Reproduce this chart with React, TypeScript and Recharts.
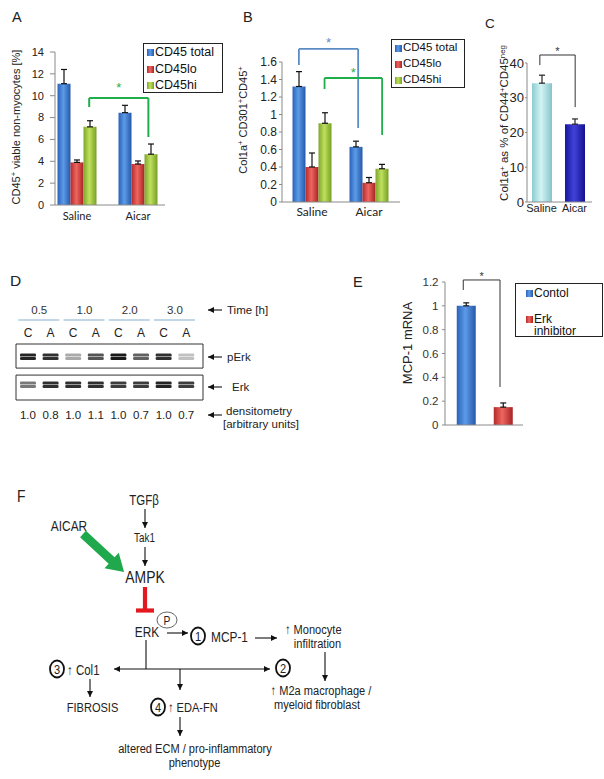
import React from 'react';
import {
  ComposedChart, Bar, Line, XAxis, YAxis, ErrorBar, ReferenceLine, ReferenceArea,
  Legend, Cell, ScatterChart, Scatter,
} from 'recharts';

const SANS = '"Liberation Sans", Arial, sans-serif';
const CALIBRI = 'Lato, "Open Sans", sans-serif';

// ---- A / B : CD45 populations, saline vs aicar
const groups = ['Saline', 'Aicar'];
const cd45Series = ['CD45 total', 'CD45lo', 'CD45hi'];

const aTotal = [11.1, 8.45];
const aTotalErr = [1.3, 0.67];
const aLo = [3.9, 3.75];
const aLoErr = [0.22, 0.28];
const aHi = [7.15, 4.65];
const aHiErr = [0.56, 0.93];
const aTicks = [0, 2, 4, 6, 8, 10, 12, 14];

const bTotal = [1.32, 0.63];
const bTotalErr = [0.17, 0.065];
const bLo = [0.4, 0.22];
const bLoErr = [0.16, 0.06];
const bHi = [0.9, 0.38];
const bHiErr = [0.12, 0.05];
const bTicks = [0, 0.2, 0.4, 0.6, 0.8, 1, 1.2, 1.4, 1.6];

// ---- C : Col1a+ fraction
const cGroups = ['Saline', 'Aicar'];
const cValues = [34.2, 22.4];
const cErr = [2.3, 1.5];
const cTicks = [0, 10, 20, 30, 40];

// ---- D : western blot
const lanes = ['C', 'A', 'C', 'A', 'C', 'A', 'C', 'A'];
const timePoints = ['0.5', '1.0', '2.0', '3.0'];
const timeTicks = [0.5, 2.5, 4.5, 6.5];
const densitometry = ['1.0', '0.8', '1.0', '1.1', '1.0', '0.7', '1.0', '0.7'];
const pErkDarkness = [0.9, 0.85, 0.35, 0.7, 0.95, 0.65, 0.85, 0.25];
const erkDarkness = [0.55, 0.85, 0.85, 0.85, 0.8, 0.8, 0.9, 0.8];

// ---- E : MCP-1 mRNA
const eSeries = ['Contol', 'Erk inhibitor'];
const eValues = [1.0, 0.15];
const eErr = [0.025, 0.035];
const eTicks = [0, 0.2, 0.4, 0.6, 0.8, 1, 1.2];

// significance brackets: x in group units, y in value units
const aBrackets = [{ xl: 0.7, xr: 1.67, yl: 8.97, top: 9.79, yr: 6.22, color: '#1fae4b' }];
const bBrackets = [
  { xl: 0.27, xr: 1.31, yl: 1.566, top: 1.749, yr: 0.846, color: '#5a8cc6' },
  { xl: 0.72, xr: 1.73, yl: 1.291, top: 1.417, yr: 0.766, color: '#1fae4b' },
];
const cBrackets = [{ xl: 0.45, xr: 1.52, yl: 39.4, top: 42.3, yr: 27.3, color: '#333' }];
const eBrackets = [{ xl: 0.22, xr: 0.71, yl: 1.133, top: 1.217, yr: 0.319, color: '#333' }];

const cdFills = ['url(#gBlue)', 'url(#gRed)', 'url(#gGreen)'];
const axisGrey = '#8a8a8a';

function bracketPoints(list: any[]) {
  return list.flatMap((b) => [{ x: b.xl, y: b.yl }, { x: b.xr, y: b.yr }]);
}

function bracketLines(list: any[], width: number, starSize: number, starOffsets: number[]) {
  return list.flatMap((b, i) => [
    <ReferenceLine key={`l${i}`} xAxisId="n" ifOverflow="visible" stroke={b.color} strokeWidth={width}
      segment={[{ x: b.xl, y: b.yl }, { x: b.xl, y: b.top }]} />,
    <ReferenceLine key={`t${i}`} xAxisId="n" ifOverflow="visible" stroke={b.color} strokeWidth={width}
      segment={[{ x: b.xl, y: b.top }, { x: b.xr, y: b.top }]}
      label={{ value: '*', position: 'top', offset: starOffsets[i], fill: b.color, fontSize: starSize, fontFamily: SANS }} />,
    <ReferenceLine key={`r${i}`} xAxisId="n" ifOverflow="visible" stroke={b.color} strokeWidth={width}
      segment={[{ x: b.xr, y: b.top }, { x: b.xr, y: b.yr }]} />,
  ]);
}

// invisible carrier so the bracket axis gets a proper numeric domain
function bracketCarrier(list: any[]) {
  return (
    <Line xAxisId="n" data={bracketPoints(list)} dataKey="y" stroke="none" dot={false} activeDot={false}
      legendType="none" isAnimationActive={false} />
  );
}

function BoxLegend({ payload, order, fills, fontSize, rowHeight, pad, textWidth }: any) {
  const items = order.map((name: string, i: number) => {
    const p = (payload ?? []).find((q: any) => q.value === name);
    return { name, color: p?.color ?? fills[i] };
  });
  return (
    <div style={{
      boxSizing: 'border-box', width: '100%', height: '100%', border: '1px solid #222',
      background: '#fff', padding: pad, fontFamily: SANS, fontSize, color: '#111', lineHeight: 1.0,
    }}>
      {items.map((p: any, i: number) => (
        <div key={i} style={{ display: 'flex', alignItems: 'flex-start', height: rowHeight }}>
          <svg width={7} height={7} style={{ marginTop: 3, marginRight: 1, flex: 'none' }}>
            <rect width={7} height={7} fill={p.color} />
          </svg>
          <span style={{ maxWidth: textWidth }}>{p.name}</span>
        </div>
      ))}
    </div>
  );
}

function RotLabel({ cx, cy, size, children }: any) {
  return (
    <div style={{
      position: 'absolute', left: cx, top: cy, transform: 'translate(-50%,-50%) rotate(-90deg)',
      whiteSpace: 'nowrap', fontSize: size, color: '#222', lineHeight: 1, fontFamily: SANS,
    }}>{children}</div>
  );
}

const Sup = ({ children }: any) => <sup style={{ fontSize: '0.68em', verticalAlign: '0.45em', lineHeight: 0 }}>{children}</sup>;

function cdRows(t: number[], te: number[], lo: number[], le: number[], hi: number[], he: number[]) {
  return groups.map((g, i) => ({
    name: g, total: t[i], totalErr: [0, te[i]], lo: lo[i], loErr: [0, le[i]], hi: hi[i], hiErr: [0, he[i]],
  }));
}

function CD45Chart({ rows, ticks, max, width, height, margin, yWidth, xHeight, pad, tickFont, xFont, xMargin,
  tickSize, tickMargin, brackets, bracketWidth, starOffsets, legendBox, legendFont, legendRow }: any) {
  const keys = ['total', 'lo', 'hi'];
  return (
    <ComposedChart width={width} height={height} data={rows} margin={margin} barGap={0}>
      <XAxis dataKey="name" padding={pad} tickLine={false} axisLine={{ stroke: axisGrey }} interval={0}
        height={xHeight} tickSize={0} tickMargin={xMargin}
        tick={{ fontSize: xFont, fill: '#222', fontFamily: CALIBRI }} />
      <XAxis xAxisId="n" dataKey="x" type="number" domain={[0, 2]} allowDataOverflow padding={pad} hide />
      <YAxis domain={[0, max]} ticks={ticks} interval={0} allowDataOverflow width={yWidth}
        axisLine={{ stroke: axisGrey }} tickLine={{ stroke: axisGrey }} tickSize={tickSize} tickMargin={tickMargin}
        tick={{ fontSize: tickFont, fill: '#222', fontFamily: SANS }} />
      {keys.map((k, i) => (
        <Bar key={k} dataKey={k} name={cd45Series[i]} fill={cdFills[i]} barSize={13} isAnimationActive={false}>
          <ErrorBar dataKey={`${k}Err`} width={3} stroke="#111" strokeWidth={1.2} direction="y" />
        </Bar>
      ))}
      {bracketCarrier(brackets)}
      {bracketLines(brackets, bracketWidth, 13, starOffsets)}
      <Legend layout="vertical" align="center" verticalAlign="middle"
        wrapperStyle={legendBox}
        content={<BoxLegend order={cd45Series} fills={cdFills} fontSize={legendFont} rowHeight={legendRow} pad="2px 3px" />} />
    </ComposedChart>
  );
}

function bandShape(props: any) {
  const { cx, cy, payload } = props;
  if (payload.v == null) return <g />;
  return (
    <g opacity={payload.v} filter="url(#soft)">
      <rect x={cx - 8} y={cy - 3.3} width={16} height={3} rx={1.2} fill="#111" />
      <rect x={cx - 8} y={cy + 0.1} width={16} height={3} rx={1.2} fill="#111" />
    </g>
  );
}

const noShape = () => <g />;

function TimeTick(props: any) {
  const { x, y, index } = props;
  return (
    <g>
      <text x={x} y={y - 8} textAnchor="middle" fontSize={11.5} fill="#333" fontFamily={SANS}>{timePoints[index]}</text>
      <line x1={x - 21} x2={x + 20} y1={y - 2} y2={y - 2} stroke="#86aecb" strokeWidth={1.2} />
    </g>
  );
}

function Arrow({ x1, y1, x2, y2, both }: any) {
  return (
    <line x1={x1} y1={y1} x2={x2} y2={y2} stroke="#111" strokeWidth={1.1}
      markerEnd="url(#ah)" markerStart={both ? 'url(#ah)' : undefined} />
  );
}

// condensed text (Arial Narrow look) made by squeezing Liberation Sans
function T({ x, y, size = 13.5, anchor = 'start', narrow = true, children }: any) {
  return (
    <text transform={`translate(${x},${y}) scale(${narrow ? 0.82 : 1},1)`} x={0} y={0}
      fontSize={size} textAnchor={anchor} fontFamily={SANS} fill="#222">{children}</text>
  );
}

function Num({ cx, cy, n }: any) {
  return (
    <g>
      <ellipse cx={cx} cy={cy} rx={7} ry={8.5} fill="none" stroke="#111" strokeWidth={1.8} />
      <T x={cx} y={cy + 4.8} size={13.5} anchor="middle">{n}</T>
    </g>
  );
}

export default function App() {
  const aRows = cdRows(aTotal, aTotalErr, aLo, aLoErr, aHi, aHiErr);
  const bRows = cdRows(bTotal, bTotalErr, bLo, bLoErr, bHi, bHiErr);
  const cRows = cGroups.map((g, i) => ({ name: g, v: cValues[i], err: [0, cErr[i]] }));
  const eRows = [{ name: '', ctl: eValues[0], ctlErr: [0, eErr[0]], inh: eValues[1], inhErr: [0, eErr[1]] }];
  const pErkRows = lanes.map((_, i) => ({ lane: i, row: 1.54, v: pErkDarkness[i] }));
  const erkRows = lanes.map((_, i) => ({ lane: i, row: 0.54, v: erkDarkness[i] }));
  const densRows = lanes.map((_, i) => ({ lane: i, row: 0.54 }));
  const timeRows = timeTicks.map((t) => ({ t, row: 1.54 }));
  const laneTicks = lanes.map((_, i) => i);
  const laneDomain = [-0.53, 7.74];

  return (
    <div style={{ position: 'absolute', left: 0, top: 0, width: 604, height: 779, background: '#fff', overflow: 'hidden', fontFamily: SANS }}>
      <svg width={0} height={0} style={{ position: 'absolute' }}>
        <defs>
          <linearGradient id="gBlue" x1="0" x2="1" y1="0" y2="0">
            <stop offset="0" stopColor="#2a62b8" /><stop offset="0.45" stopColor="#5c9be8" /><stop offset="1" stopColor="#2458a8" />
          </linearGradient>
          <linearGradient id="gRed" x1="0" x2="1" y1="0" y2="0">
            <stop offset="0" stopColor="#b52a2a" /><stop offset="0.45" stopColor="#ee6660" /><stop offset="1" stopColor="#a82222" />
          </linearGradient>
          <linearGradient id="gGreen" x1="0" x2="1" y1="0" y2="0">
            <stop offset="0" stopColor="#7ea62c" /><stop offset="0.45" stopColor="#bfe05e" /><stop offset="1" stopColor="#76a024" />
          </linearGradient>
          <linearGradient id="gCyan" x1="0" x2="1" y1="0" y2="0">
            <stop offset="0" stopColor="#8ccbd0" /><stop offset="0.45" stopColor="#d2f4f5" /><stop offset="1" stopColor="#86c4ca" />
          </linearGradient>
          <linearGradient id="gNavy" x1="0" x2="1" y1="0" y2="0">
            <stop offset="0" stopColor="#1616a0" /><stop offset="0.45" stopColor="#4242d8" /><stop offset="1" stopColor="#121290" />
          </linearGradient>
          <filter id="soft" x="-20%" y="-50%" width="140%" height="200%">
            <feGaussianBlur stdDeviation="0.6" />
          </filter>
          <marker id="ah" viewBox="0 0 10 10" refX="10" refY="5" markerWidth="6" markerHeight="6"
            markerUnits="userSpaceOnUse" orient="auto-start-reverse">
            <path d="M0,0 L10,5 L0,10 z" fill="#111" />
          </marker>
        </defs>
      </svg>

      {/* A */}
      <div style={{ position: 'absolute', left: 0, top: 0 }}>
        <CD45Chart rows={aRows} ticks={aTicks} max={14} width={230} height={230}
          margin={{ top: 52, right: 65, bottom: 5, left: 15 }} yWidth={40} xHeight={20}
          pad={{ left: -8.5, right: -3.5 }} tickFont={11} xFont={11} xMargin={7} tickSize={5} tickMargin={6}
          brackets={aBrackets} bracketWidth={2} starOffsets={[6]}
          legendBox={{ left: 143, top: 43, width: 80, height: 50 }} legendFont={12.5} legendRow={16.5} />
      </div>
      <RotLabel cx={16} cy={127} size={11}>CD45<Sup>+</Sup> viable non-myocytes [%]</RotLabel>

      {/* B */}
      <div style={{ position: 'absolute', left: 230, top: 0 }}>
        <CD45Chart rows={bRows} ticks={bTicks} max={1.6} width={240} height={230}
          margin={{ top: 62, right: 70, bottom: 6, left: 12 }} yWidth={40} xHeight={22}
          pad={{ left: 1.5, right: 2.5 }} tickFont={12} xFont={12} xMargin={5} tickSize={3} tickMargin={2}
          brackets={bBrackets} bracketWidth={1.8} starOffsets={[2, 1]}
          legendBox={{ left: 161, top: 39, width: 74, height: 49 }} legendFont={11.5} legendRow={16} />
      </div>
      <RotLabel cx={243} cy={120} size={11}>Col1a<Sup>+</Sup> CD301<Sup>+</Sup>CD45<Sup>+</Sup></RotLabel>

      {/* C */}
      <div style={{ position: 'absolute', left: 470, top: 0 }}>
        <ComposedChart width={134} height={230} data={cRows} margin={{ top: 63, right: 12, bottom: 6, left: 32 }}>
          <XAxis dataKey="name" padding={{ left: -2, right: 1 }} tickLine={false} axisLine={{ stroke: axisGrey }}
            interval={0} height={22} tickSize={0} tickMargin={2} tick={{ fontSize: 11, fill: '#222', fontFamily: SANS }} />
          <XAxis xAxisId="n" dataKey="x" type="number" domain={[0, 2]} allowDataOverflow padding={{ left: -2, right: 1 }} hide />
          <YAxis domain={[0, 40]} ticks={cTicks} interval={0} allowDataOverflow width={25}
            axisLine={{ stroke: axisGrey }} tickLine={{ stroke: axisGrey }} tickSize={2} tickMargin={1}
            tick={{ fontSize: 13, fill: '#222', fontFamily: SANS }} />
          <Bar dataKey="v" barSize={20} isAnimationActive={false}>
            {cRows.map((r, i) => <Cell key={r.name} fill={i === 0 ? 'url(#gCyan)' : 'url(#gNavy)'} />)}
            <ErrorBar dataKey="err" width={3} stroke="#222" strokeWidth={1.2} direction="y" />
          </Bar>
          {bracketCarrier(cBrackets)}
          {bracketLines(cBrackets, 1, 11, [0])}
        </ComposedChart>
      </div>
      <RotLabel cx={505} cy={123} size={11.5}>Col1a<Sup>+</Sup> as % of CD44<Sup>+</Sup>CD45<Sup>neg</Sup></RotLabel>

      {/* D */}
      <div style={{ position: 'absolute', left: 0, top: 290 }}>
        <ScatterChart width={210} height={140} margin={{ top: 20, right: 7, bottom: 10, left: 16 }}>
          <XAxis xAxisId="lane" dataKey="lane" type="number" orientation="top" domain={laneDomain} allowDataOverflow
            ticks={laneTicks} interval={0} tickFormatter={(v: number) => lanes[v]} height={22} axisLine={false} tickLine={false}
            tickSize={0} tickMargin={7} tick={{ fontSize: 12, fill: '#222', fontFamily: SANS }} />
          <XAxis xAxisId="time" dataKey="t" type="number" orientation="top" domain={laneDomain} allowDataOverflow
            ticks={timeTicks} interval={0} height={12} axisLine={false} tickLine={false} tickSize={0} tickMargin={0}
            tick={<TimeTick />} />
          <XAxis xAxisId="dens" dataKey="lane" type="number" orientation="bottom" domain={laneDomain} allowDataOverflow
            ticks={laneTicks} interval={0} tickFormatter={(v: number) => densitometry[v]} height={20} axisLine={false}
            tickLine={false} tickSize={0} tickMargin={11} tick={{ fontSize: 11.5, fill: '#222', fontFamily: SANS }} />
          <YAxis dataKey="row" type="number" domain={[0, 2]} allowDataOverflow hide />
          <ReferenceArea xAxisId="lane" x1={laneDomain[0]} x2={laneDomain[1]} y1={1.14} y2={2}
            fill="none" stroke="#333" strokeWidth={1} ifOverflow="visible" />
          <ReferenceArea xAxisId="lane" x1={laneDomain[0]} x2={laneDomain[1]} y1={0} y2={0.89}
            fill="none" stroke="#333" strokeWidth={1} ifOverflow="visible" />
          <Scatter xAxisId="lane" name="pErk" data={pErkRows} shape={bandShape} isAnimationActive={false} />
          <Scatter xAxisId="lane" name="Erk" data={erkRows} shape={bandShape} isAnimationActive={false} />
          <Scatter xAxisId="time" name="time" data={timeRows} shape={noShape} isAnimationActive={false} />
          <Scatter xAxisId="dens" name="densitometry" data={densRows} shape={noShape} isAnimationActive={false} />
        </ScatterChart>
      </div>

      {/* E */}
      <div style={{ position: 'absolute', left: 380, top: 250 }}>
        <ComposedChart width={224} height={190} data={eRows} margin={{ top: 32, right: 81, bottom: 10, left: 35 }} barGap={18}>
          <XAxis dataKey="name" padding={{ left: 1.75, right: 1.25 }} tick={false} tickLine={false}
            axisLine={{ stroke: axisGrey }} height={5} />
          <XAxis xAxisId="n" dataKey="x" type="number" domain={[0, 1]} allowDataOverflow padding={{ left: 1.75, right: 1.25 }} hide />
          <YAxis domain={[0, 1.2]} ticks={eTicks} interval={0} allowDataOverflow width={30}
            axisLine={{ stroke: axisGrey }} tickLine={{ stroke: axisGrey }} tickSize={3} tickMargin={3.5}
            tick={{ fontSize: 11.5, fill: '#333', fontFamily: SANS }} />
          <Bar dataKey="ctl" name={eSeries[0]} fill="url(#gBlue)" barSize={19} isAnimationActive={false}>
            <ErrorBar dataKey="ctlErr" width={3} stroke="#111" strokeWidth={1.2} direction="y" />
          </Bar>
          <Bar dataKey="inh" name={eSeries[1]} fill="url(#gRed)" barSize={19} isAnimationActive={false}>
            <ErrorBar dataKey="inhErr" width={3} stroke="#111" strokeWidth={1.2} direction="y" />
          </Bar>
          {bracketCarrier(eBrackets)}
          {bracketLines(eBrackets, 1, 11, [0])}
          <Legend layout="vertical" align="center" verticalAlign="middle"
            wrapperStyle={{ left: 135, top: 33, width: 88, height: 54 }}
            content={<BoxLegend order={eSeries} fills={['url(#gBlue)', 'url(#gRed)']} fontSize={12}
              rowHeight={26} pad="3px 4px 1px 10px" textWidth={60} />} />
        </ComposedChart>
      </div>
      <RotLabel cx={407} cy={343} size={13}>MCP-1 mRNA</RotLabel>

      {/* letters, blot annotations and pathway diagram */}
      <svg width={604} height={779} style={{ position: 'absolute', left: 0, top: 0, pointerEvents: 'none' }}>
        <T x={12} y={22} size={14.5} narrow={false}>A</T>
        <T x={243} y={22} size={14.5} narrow={false}>B</T>
        <T x={485} y={28} size={13.5} narrow={false}>C</T>
        <T x={10} y={286} size={15.5} narrow={false}>D</T>
        <T x={353} y={287} size={14.5} narrow={false}>E</T>
        <T x={17} y={502} size={17}>F</T>

        <Arrow x1={222} y1={310} x2={208} y2={310} />
        <T x={227} y={314} size={11.5} narrow={false}>Time [h]</T>
        <Arrow x1={222} y1={357} x2={208} y2={357} />
        <T x={227} y={361} size={11.5} narrow={false}>pErk</T>
        <Arrow x1={222} y1={387} x2={208} y2={387} />
        <T x={232} y={391} size={11.5} narrow={false}>Erk</T>
        <Arrow x1={222} y1={415} x2={208} y2={415} />
        <T x={259} y={414.5} size={11.5} anchor="middle" narrow={false}>densitometry</T>
        <T x={261} y={428} size={11.5} anchor="middle" narrow={false}>[arbitrary units]</T>

        <T x={144} y={504.5} size={14} anchor="middle">TGFβ</T>
        <Arrow x1={145} y1={509} x2={145} y2={528} />
        <T x={144.5} y={542} size={12} anchor="middle">Tak1</T>
        <Arrow x1={145} y1={547} x2={145} y2={566} />
        <T x={145} y={583} size={17} anchor="middle">AMPK</T>
        <T x={69} y={531} size={14.5} anchor="middle">AICAR</T>
        <path transform="translate(83,534) rotate(42.8)" fill="#1fa84c"
          d="M0,-4.3 L39,-4.3 L39,-10.5 L56,0 L39,10.5 L39,4.3 L0,4.3 Z" />
        <line x1={145} y1={587} x2={145} y2={610} stroke="#e3191f" strokeWidth={4.2} />
        <line x1={136} y1={610.5} x2={154} y2={610.5} stroke="#e3191f" strokeWidth={4.2} />

        <ellipse cx={167} cy={620} rx={10} ry={8} fill="#fff" stroke="#555" strokeWidth={0.9} />
        <T x={167} y={624.5} size={12.5} anchor="middle">P</T>
        <T x={147} y={637} size={14.5} anchor="middle">ERK</T>
        <Arrow x1={167} y1={633} x2={188} y2={633} />
        <Num cx={198} cy={636} n="1" />
        <T x={211} y={641.5} size={14.5}>MCP-1</T>
        <Arrow x1={255} y1={638} x2={277} y2={638} />
        <T x={285} y={634} size={13.5}>↑ Monocyte</T>
        <T x={317.5} y={648} size={13.5} anchor="middle">infiltration</T>
        <Arrow x1={325} y1={652} x2={325} y2={681} />

        <line x1={146} y1={640} x2={146} y2={669} stroke="#111" strokeWidth={1.1} />
        <Arrow x1={114} y1={669} x2={270} y2={669} both />
        <Num cx={57} cy={669} n="3" />
        <T x={67} y={675} size={14}>↑ Col1</T>
        <Arrow x1={90} y1={679} x2={90} y2={697} />
        <T x={92.5} y={712} size={13.5} anchor="middle">FIBROSIS</T>

        <Arrow x1={180} y1={669} x2={180} y2={690} />
        <Num cx={158} cy={707} n="4" />
        <T x={168} y={712} size={13.5}>↑ EDA-FN</T>
        <Arrow x1={180} y1={717} x2={180} y2={736} />
        <T x={195} y={753} size={13.5} anchor="middle">altered ECM / pro-inflammatory</T>
        <T x={194.5} y={767} size={13.5} anchor="middle">phenotype</T>

        <Num cx={283} cy={668} n="2" />
        <T x={321} y={695} size={13.5} anchor="middle">↑ M2a macrophage /</T>
        <T x={317} y={709} size={13.5} anchor="middle">myeloid fibroblast</T>
      </svg>
    </div>
  );
}
